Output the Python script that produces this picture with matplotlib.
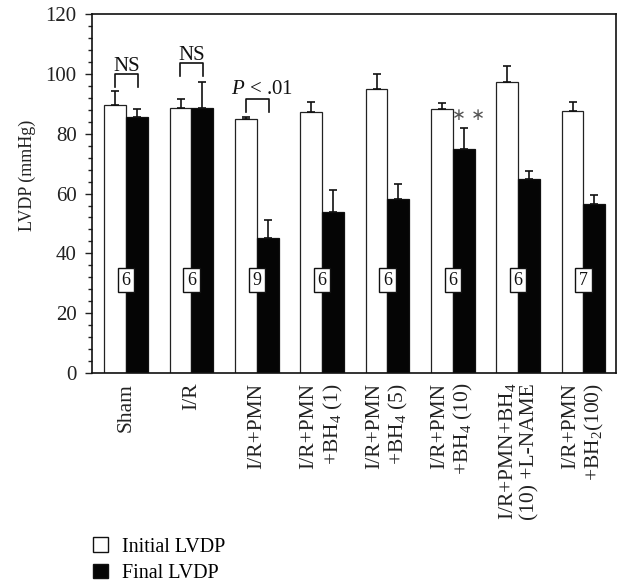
import matplotlib
matplotlib.use('Agg')
import matplotlib.pyplot as plt
from matplotlib.patches import Patch
from matplotlib.ticker import MultipleLocator
import numpy as np

plt.rcParams['font.family'] = ['Liberation Serif', 'DejaVu Serif']
plt.rcParams['mathtext.fontset'] = 'custom'
plt.rcParams['mathtext.rm'] = 'Liberation Serif'
plt.rcParams['mathtext.it'] = 'Liberation Serif:italic'

# --- data ---
groups = ['Sham', 'I/R', 'I/R+PMN',
          'I/R+PMN\n+BH$_4$ (1)', 'I/R+PMN\n+BH$_4$ (5)', 'I/R+PMN\n+BH$_4$ (10)',
          'I/R+PMN+BH$_4$\n(10) +L-NAME', 'I/R+PMN\n+BH$_2$(100)']
initial = [89.6, 88.7, 84.8, 87.1, 95.0, 88.1, 97.4, 87.7]
initial_err = [4.8, 2.9, 0.8, 3.4, 5.1, 2.0, 5.3, 2.8]
final = [85.7, 88.7, 45.2, 53.7, 58.3, 75.0, 65.0, 56.4]
final_err = [2.7, 8.6, 6.1, 7.6, 4.9, 7.0, 2.6, 3.0]
n_rats = ['6', '6', '9', '6', '6', '6', '6', '7']

x = np.arange(len(groups))
w = 0.333

fig = plt.figure(figsize=(6.17, 5.83), dpi=100)
ax = fig.add_axes([0.149, 0.360, 0.849, 0.616])

ekw = dict(ecolor='#111', elinewidth=1.2, capsize=3, capthick=1.2)
ax.bar(x - w / 2, initial, w, color='white', edgecolor='#222', linewidth=0.9,
       yerr=[np.zeros(len(x)), initial_err], error_kw=ekw, zorder=2)
ax.bar(x + w / 2, final, w, color='#050505', edgecolor='#111', linewidth=0.9,
       yerr=[np.zeros(len(x)), final_err], error_kw=ekw, zorder=2)

# n per group
for xi, n in zip(x, n_rats):
    ax.text(xi, 31.1, n, ha='center', va='center', fontsize=13, color='#111', zorder=4,
            bbox=dict(boxstyle='square,pad=0.2', fc='white', ec='#111', lw=1.0))

# significance brackets
def bracket(xc, y_top, y_bot, label, tx, ty):
    ax.plot([xc - 0.17, xc - 0.17, xc + 0.18, xc + 0.18], [y_bot, y_top, y_top, y_bot],
            color='#111', lw=1.2, zorder=3)
    ax.text(xc + tx, ty, label, ha='center', va='baseline', fontsize=15, color='#111')

bracket(x[0], 100.0, 95.7, 'NS', 0.01, 101.1)
bracket(x[1], 103.7, 99.3, 'NS', 0.0, 104.7)
bracket(x[2], 91.7, 87.4, '$\\mathit{P}$ < .01', 0.08, 93.3)
ax.text(x[5] + 0.24, 86.3, '∗ ∗', ha='center', va='center', fontsize=12, color='#555',
        family=['DejaVu Sans'])

# axes styling
ax.set_xlim(-0.524, 7.494)
ax.set_ylim(0, 120)
ax.yaxis.set_major_locator(MultipleLocator(20))
ax.yaxis.set_minor_locator(MultipleLocator(4))
ax.tick_params(axis='y', which='major', direction='out', length=5, width=1, pad=6,
               labelsize=15, colors='#222')
ax.tick_params(axis='y', which='minor', direction='out', length=3, width=1, colors='#222')
ax.set_xticks(x)
ax.set_xticklabels(groups, rotation=90, fontsize=15.5, color='#222', multialignment='right',
                   linespacing=1.2)
ax.tick_params(axis='x', length=0, pad=7)
ax.set_ylabel('LVDP (mmHg)', fontsize=13, color='#222')
ax.yaxis.set_label_coords(-0.106, 0.55)
for s in ax.spines.values():
    s.set_linewidth(1.2)
    s.set_color('#111')

handles = [Patch(facecolor='white', edgecolor='#111', label='Initial LVDP'),
           Patch(facecolor='#050505', edgecolor='#111', label='Final LVDP')]
fig.legend(handles=handles, loc='lower left', bbox_to_anchor=(93 / 617, 0.0), frameon=False,
           borderaxespad=0, borderpad=0, fontsize=14.5, handlelength=0.75, handleheight=0.75,
           handletextpad=0.7, labelspacing=0.35)

fig.savefig('out.png', dpi=100)
